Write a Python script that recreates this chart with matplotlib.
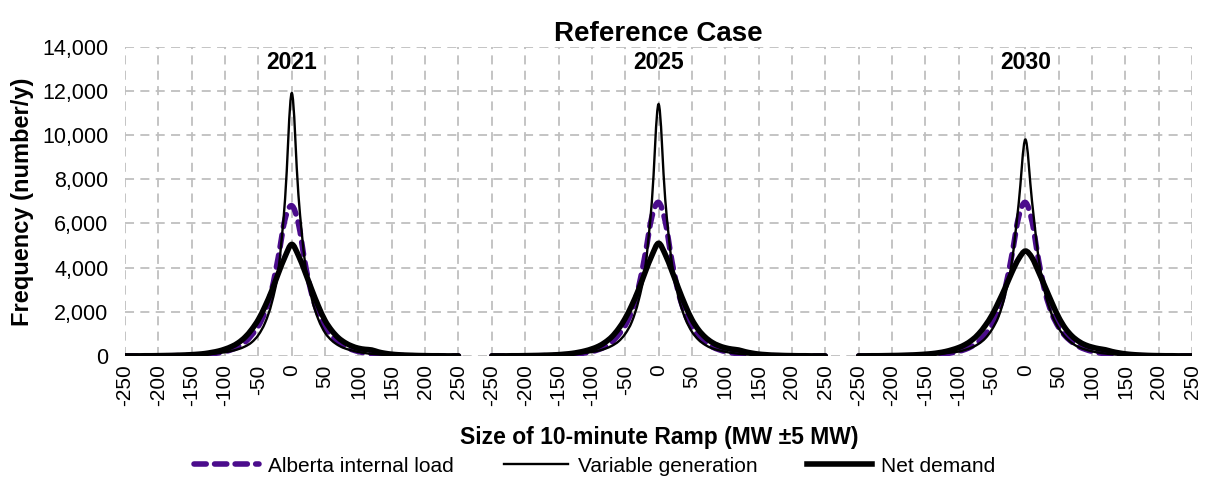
import numpy as np
import matplotlib
matplotlib.use("Agg")
import matplotlib.pyplot as plt
from matplotlib.path import Path
from matplotlib.patches import PathPatch
from matplotlib.lines import Line2D
from matplotlib.ticker import FuncFormatter

plt.rcParams['font.family'] = ['Liberation Sans', 'DejaVu Sans']

# ramp size bins (MW, +/-5 MW)
bins = list(range(-250, 251, 10))
years = ["2021", "2025", "2030"]

# frequency (number/y) per bin, -250 ... 250
load_2021 = [0, 0, 0, 0, 5, 5,
             10, 10, 15, 20, 30, 45, 65, 95, 140,
             200, 290, 420, 620, 950, 1350, 2000, 3000, 4500, 6200,
             6800,
             6000, 4200, 2800, 1900, 1300, 900, 620, 420, 290, 200,
             140, 100, 70, 50, 35, 25, 15, 10, 5,
             5, 0, 0, 0, 0, 0]
vg_2021 = [0, 0, 0, 5, 5, 10,
           10, 15, 20, 30, 40, 55, 75, 100, 130,
           170, 230, 310, 430, 620, 950, 1500, 2400, 3900, 7100,
           11900,
           7300, 4200, 2600, 1650, 1050, 700, 480, 340, 250, 180,
           130, 95, 70, 50, 40, 30, 20, 15, 10,
           10, 5, 5, 0, 0, 0]
net_2021 = [5, 5, 5, 10, 10, 15,
            20, 25, 35, 45, 60, 80, 110, 160, 220,
            310, 430, 600, 850, 1200, 1650, 2250, 2950, 3750, 4500,
            5050,
            4550, 3800, 3000, 2250, 1600, 1150, 820, 600, 450, 350,
            300, 270, 180, 120, 80, 55, 40, 30, 20,
            15, 10, 10, 5, 5, 5]

load_2025 = [0, 0, 0, 0, 5, 5,
             10, 10, 15, 20, 30, 45, 65, 95, 140,
             200, 290, 420, 630, 960, 1380, 2050, 3100, 4600, 6300,
             6950,
             6100, 4300, 2850, 1900, 1300, 900, 620, 420, 290, 200,
             140, 100, 70, 50, 35, 25, 15, 10, 5,
             5, 0, 0, 0, 0, 0]
vg_2025 = [0, 0, 0, 5, 5, 10,
           10, 15, 20, 30, 45, 60, 80, 105, 140,
           180, 240, 330, 460, 660, 1000, 1550, 2500, 4000, 7000,
           11400,
           7100, 4200, 2650, 1700, 1100, 730, 500, 350, 260, 190,
           140, 100, 75, 55, 40, 30, 20, 15, 10,
           10, 5, 5, 0, 0, 0]
net_2025 = [5, 5, 5, 10, 10, 15,
            20, 25, 35, 45, 60, 85, 115, 165, 230,
            320, 440, 620, 870, 1230, 1700, 2300, 3000, 3800, 4550,
            5100,
            4600, 3850, 3050, 2300, 1650, 1180, 850, 620, 470, 370,
            310, 270, 190, 130, 85, 60, 40, 30, 20,
            15, 10, 10, 5, 5, 5]

load_2030 = [0, 0, 0, 0, 5, 5,
             10, 10, 15, 20, 30, 45, 65, 100, 145,
             210, 300, 440, 650, 980, 1400, 2050, 3100, 4600, 6300,
             6950,
             6100, 4300, 2850, 1900, 1300, 900, 630, 430, 300, 210,
             145, 100, 70, 50, 35, 25, 15, 10, 5,
             5, 0, 0, 0, 0, 0]
vg_2030 = [0, 0, 0, 5, 5, 10,
           15, 20, 25, 35, 50, 70, 95, 125, 160,
           200, 280, 390, 550, 800, 1200, 1800, 2800, 4300, 6900,
           9800,
           7000, 4400, 2800, 1850, 1250, 850, 580, 400, 290, 210,
           150, 110, 80, 60, 45, 30, 20, 15, 10,
           10, 5, 5, 0, 0, 0]
net_2030 = [5, 5, 10, 10, 15, 20,
            25, 35, 45, 60, 80, 105, 145, 200, 280,
            380, 520, 720, 1000, 1380, 1850, 2450, 3100, 3800, 4400,
            4750,
            4450, 3800, 3100, 2400, 1750, 1250, 900, 660, 500, 400,
            330, 280, 200, 140, 95, 65, 45, 30, 20,
            15, 10, 10, 5, 5, 5]

load = [load_2021, load_2025, load_2030]
vg = [vg_2021, vg_2025, vg_2030]
net = [net_2021, net_2025, net_2030]

PURPLE = '#4b0c8c'
GRID = '#bfbfbf'
PANEL_STEP = 550  # 500 MW panel + 50 MW blank gap
DASH = (0, (2.2, 1.5))


def smooth_path(x, y):
    # Catmull-Rom style cubic Bezier through every point (like a "smoothed line")
    pts = np.column_stack([np.asarray(x, float), np.asarray(y, float)])
    n = len(pts)
    verts = [pts[0]]
    codes = [Path.MOVETO]
    for i in range(n - 1):
        p0 = pts[max(i - 1, 0)]
        p1 = pts[i]
        p2 = pts[i + 1]
        p3 = pts[min(i + 2, n - 1)]
        verts += [p1 + (p2 - p0) / 6.0, p2 - (p3 - p1) / 6.0, p2]
        codes += [Path.CURVE4] * 3
    return Path(verts, codes)


fig = plt.figure(figsize=(12.09, 4.83), dpi=100)
ax = fig.add_axes([0.1034, 0.263, 0.8826, 0.6403])

xb = np.array(bins)
tick_pos = []
tick_lab = []
for i, yr in enumerate(years):
    off = i * PANEL_STEP
    xs = xb + off
    ax.add_patch(PathPatch(smooth_path(xs, load[i]), fill=False, edgecolor=PURPLE,
                           lw=4.0, linestyle=DASH, capstyle='round', zorder=3))
    ax.add_patch(PathPatch(smooth_path(xs, vg[i]), fill=False, edgecolor='black',
                           lw=1.7, zorder=4))
    ax.add_patch(PathPatch(smooth_path(xs, net[i]), fill=False, edgecolor='black',
                           lw=4.0, capstyle='round', zorder=5))
    ax.text(off, 13300, yr, ha='center', va='center', fontsize=16.5, fontweight='bold')
    for t in range(-250, 251, 50):
        tick_pos.append(t + off)
        tick_lab.append(str(t))

ax.set_xlim(-250, 2 * PANEL_STEP + 250)
ax.set_ylim(0, 14000)
ax.set_xticks(tick_pos)
ax.set_xticklabels(tick_lab, rotation=90)
ax.set_yticks(range(0, 14001, 2000))
ax.yaxis.set_major_formatter(FuncFormatter(lambda v, p: f"{int(v):,}"))
ax.tick_params(axis='x', length=0, labelsize=15, pad=6)
ax.tick_params(axis='y', length=0, labelsize=15.5, pad=12)
for s in ax.spines.values():
    s.set_visible(False)
ax.grid(True, color=GRID, linestyle=(0, (5, 3.5)), linewidth=1.3, zorder=0)
ax.set_axisbelow(True)
ax.set_ylabel("Frequency (number/y)", fontsize=17, fontweight='bold', labelpad=6)

fig.text(0.545, 0.095, "Size of 10-minute Ramp (MW ±5 MW)", ha='center', va='center',
         fontsize=16.5, fontweight='bold')
ax.set_title("Reference Case", fontsize=20, fontweight='bold', pad=3)

handles = [
    Line2D([], [], color=PURPLE, lw=4.0, linestyle=DASH, dash_capstyle='round'),
    Line2D([], [], color='black', lw=1.7),
    Line2D([], [], color='black', lw=4.0),
]
fig.legend(handles, ["Alberta internal load", "Variable generation", "Net demand"],
           loc='center', bbox_to_anchor=(0.492, 0.035), ncol=3, frameon=False,
           fontsize=15, handlelength=3.1, columnspacing=2.4, handletextpad=0.45)

fig.savefig("out.png", dpi=100)
